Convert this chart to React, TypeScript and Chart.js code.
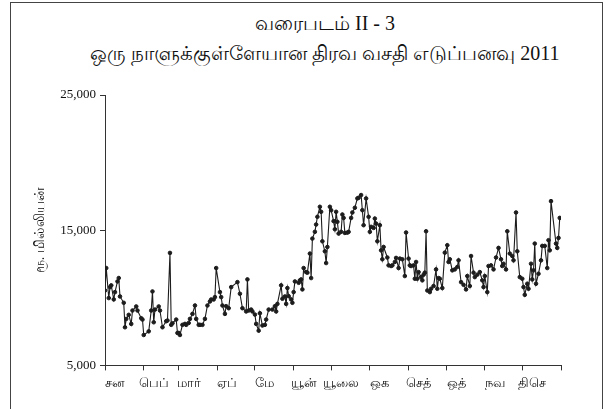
import React, { useEffect, useRef } from "react";
import { Chart, registerables } from "chart.js";

Chart.register(...registerables);

const TITLE = ["வரைபடம் II - 3", "ஒரு நாளுக்குள்ளேயான திரவ வசதி எடுப்பனவு 2011"];
const Y_TITLE = "ரூ. மில்லியன்";
const MONTHS = ["சன", "பெப்", "மார்", "ஏப்", "மே", "யூன்", "யூலை", "ஒக", "செத்", "ஒத்", "நவ", "திசெ"];
const MONTH_START = [0, 31, 59, 90, 120, 151, 181, 212, 243, 273, 304, 334, 365];
const Y_TICKS = [5000, 15000, 25000];

// day of year (0 = 1 Jan 2011)
const days = [
  0, 1, 3, 4, 5, 7, 8, 10, 11, 12, 15, 16, 17, 19, 21, 22, 25, 26, 29, 30,
  31, 35, 37, 38, 39, 40, 43, 44, 46, 49, 50, 52, 53, 54, 57, 58,
  59, 60, 62, 64, 65, 67, 68, 70, 72, 73, 75, 76, 78, 80, 82, 84, 85, 87, 88, 89,
  92, 93, 94, 96, 97, 99, 101, 106, 108, 110, 113, 114, 115, 117, 118, 120,
  121, 123, 124, 126, 128, 129, 131, 134, 136, 137, 138, 141, 142, 144, 145, 146, 147, 149, 150, 151,
  152, 155, 156, 157, 158, 159, 161, 162, 164, 165, 166, 168, 169, 170, 172, 173, 174, 176, 177, 178, 180,
  181, 183, 184, 185, 186, 187, 189, 190, 191, 192, 194, 195, 197, 198, 200, 202, 203, 205, 206, 207, 209, 211, 212,
  213, 215, 216, 217, 218, 220, 221, 222, 223, 226, 227, 229, 230, 232, 233, 235, 236, 238, 240, 241, 243, 244,
  245, 247, 248, 249, 250, 251, 253, 254, 255, 256, 257, 258, 260, 261, 263, 265, 266, 267, 268, 270, 272, 274, 275,
  276, 278, 280, 282, 283, 285, 287, 289, 290, 292, 293, 295, 296, 298, 300, 302, 303, 304, 306,
  307, 309, 311, 313, 315, 317, 318, 319, 321, 322, 324, 326, 327, 329, 330, 332, 334,
  335, 336, 338, 339, 341, 342, 343, 344, 345, 347, 349, 350, 352, 354, 355, 356, 357, 361, 362, 363, 364,
];

// Rs. million
const values = [
  10540, 12200, 9980, 10790, 10920, 9880, 10420, 11210, 11460, 10100, 9630, 7820, 8440, 8740, 8070, 9060, 9360, 9060, 8490, 8390,
  7250, 7520, 9060, 10470, 8190, 9130, 9360, 9060, 7820, 8270, 8320, 13320, 8000, 8120, 8390, 7400,
  7400, 7250, 8000, 8070, 8000, 8140, 8440, 8810, 9430, 8440, 8000, 8000, 8000, 8440, 9430, 9730, 9875, 9875, 10050, 12200,
  10420, 10050, 9430, 8810, 9380, 9230, 10790, 11160, 10300, 9230, 8990, 11360, 9060, 9130, 8990, 8760,
  8070, 7570, 8860, 7950, 8000, 8390, 9130, 9130, 9380, 8990, 9550, 10920, 9930, 10100, 9550, 10720, 10120, 9880, 9630, 10420,
  11210, 11110, 11290, 11360, 10620, 12200, 11900, 11860, 13270, 11460, 14380, 14880, 15420, 15990, 16730, 16360, 14180, 13440, 12570, 13760, 16730,
  16480, 15670, 15070, 16360, 15620, 14750, 14880, 16160, 15910, 14800, 14820, 14880, 15910, 16310, 16660, 17350, 17400, 17600, 16480, 15370, 17350, 15990, 14880,
  15250, 15170, 15860, 15490, 14180, 15370, 13510, 12850, 13760, 12980, 12400, 12350, 12400, 12650, 12950, 12200, 12900, 12850, 11610, 14830, 12900, 12400,
  12350, 12400, 11410, 12650, 11410, 11900, 11530, 11290, 11710, 11860, 14920, 10540, 10420, 10670, 10870, 12100, 10670, 11460, 11410, 10720, 13340, 13890, 12650,
  12850, 12030, 12100, 12280, 12770, 11160, 10960, 10620, 11610, 10870, 13090, 11860, 11530, 11710, 11900, 11290, 10790, 11610, 10420,
  12350, 12400, 12100, 12980, 13690, 12850, 12350, 12520, 12100, 14920, 13270, 13090, 12770, 16310, 13440, 11530, 11410,
  10790, 10220, 11040, 10670, 12520, 11360, 12030, 14010, 11040, 11780, 12770, 13840, 13840, 12200, 14260, 13510, 17150, 14010, 13690, 14430, 15910,
];

const LABEL_OFFSET = 8;
const FONT = "'Liberation Serif', 'Times New Roman', serif";
const INK = "#1c1c1c";

export default function App() {
  const ref = useRef<HTMLCanvasElement | null>(null);

  useEffect(() => {
    if (!ref.current) return;
    const labelAt = new Map<number, string>();
    MONTHS.forEach((m, i) => labelAt.set(MONTH_START[i] + LABEL_OFFSET, m));
    const boundary = new Set(MONTH_START);

    const chart = new Chart(ref.current, {
      type: "line",
      data: {
        datasets: [
          {
            data: days.map((d, i) => ({ x: d, y: values[i] })),
            borderColor: INK,
            borderWidth: 1.1,
            pointRadius: 1.8,
            pointBackgroundColor: INK,
            pointBorderColor: INK,
            pointBorderWidth: 1,
            tension: 0,
          },
        ],
      },
      options: {
        responsive: false,
        animation: false,
        layout: { padding: { top: 95, left: 28, right: 49, bottom: 13 } },
        plugins: {
          legend: { display: false },
          tooltip: { enabled: false },
          title: { display: false },
        },
        scales: {
          x: {
            type: "linear",
            min: 0,
            max: 365,
            afterBuildTicks: (s: any) => {
              const vals = [...MONTH_START, ...MONTHS.map((_, i) => MONTH_START[i] + LABEL_OFFSET)].sort((a, b) => a - b);
              s.ticks = vals.map((v) => ({ value: v }));
            },
            ticks: {
              autoSkip: false,
              maxRotation: 0,
              minRotation: 0,
              padding: 5,
              color: "#111",
              font: { family: FONT, size: 13 },
              callback: (v: any) => labelAt.get(Number(v)) ?? "",
            },
            grid: {
              drawOnChartArea: false,
              tickLength: 5,
              tickColor: (ctx: any) => (ctx.tick && boundary.has(ctx.tick.value) ? "#333" : "rgba(0,0,0,0)"),
            },
            border: { color: "#333", width: 1 },
          },
          y: {
            min: 5000,
            max: 25000,
            afterBuildTicks: (s: any) => {
              s.ticks = Y_TICKS.map((v) => ({ value: v }));
            },
            afterFit: (s: any) => {
              s.width = 77;
            },
            ticks: {
              padding: 4,
              color: "#111",
              font: { family: FONT, size: 13 },
              callback: (v: any) => Number(v).toLocaleString("en-US"),
            },
            grid: { drawOnChartArea: false, tickLength: 5, tickColor: "#333" },
            border: { color: "#333", width: 1 },
            title: {
              display: true,
              text: Y_TITLE,
              color: "#111",
              font: { family: FONT, size: 14 },
              padding: { top: 4, bottom: 0 },
            },
          },
        },
      },
    });
    return () => chart.destroy();
  }, []);

  return (
    <div style={{ position: "absolute", left: 0, top: 0, width: 610, height: 409, background: "#fff", overflow: "hidden" }}>
      <div
        style={{
          position: "absolute",
          left: 10,
          top: 2,
          width: 593,
          height: 407,
          boxSizing: "border-box",
          borderLeft: "1px solid #444",
          borderTop: "1px solid #444",
          borderRight: "1px solid #444",
        }}
      />
      <div
        style={{
          position: "absolute",
          left: 25,
          top: 8,
          width: 600,
          textAlign: "center",
          fontFamily: FONT,
          fontSize: 20,
          lineHeight: "30px",
          color: "#111",
        }}
      >
        {TITLE.map((t) => (
          <div key={t}>{t}</div>
        ))}
      </div>
      <canvas ref={ref} width={610} height={409} style={{ position: "absolute", left: 0, top: 0, display: "block" }} />
    </div>
  );
}
